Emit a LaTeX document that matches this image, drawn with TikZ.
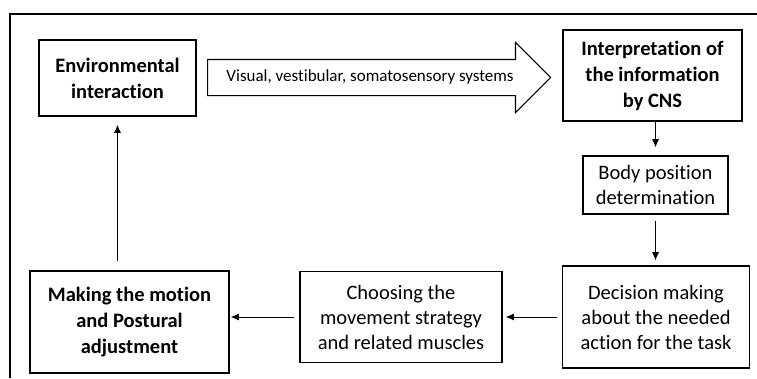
\documentclass[tikz,border=0pt]{standalone}
\usepackage{fontspec}
\setmainfont{Carlito}[Ligatures=NoCommon]
\usetikzlibrary{arrows.meta,shapes.arrows}

\tikzset{
  box/.style={draw, line width=1.6pt, align=center, inner sep=0pt},
  strong/.style={font=\fontsize{20.5}{26}\selectfont\bfseries},
  plain/.style={font=\fontsize{20.5}{25}\selectfont},
  link/.style={-{Latex[length=8pt,width=7pt]}, line width=0.8pt},
}

\begin{document}
\begin{tikzpicture}[x=1pt, y=-1pt, line join=miter]
\useasboundingbox (0,0) rectangle (757,378);
\draw[line width=1.4pt] (757,14) -- (10,14) -- (10,378); % frame
% boxes
\node[box, strong, minimum width=157pt, minimum height=76pt] (env) at (117.5,78) {Environmental\\interaction};
\node[box, strong, minimum width=179pt, minimum height=91pt] (interp) at (652.5,75.5) {Interpretation of\\the information\\by CNS};
\node[box, plain, minimum width=145pt, minimum height=58pt] (body) at (655.5,185) {Body position\\determination};
\node[box, plain, minimum width=187pt, minimum height=102pt] (decide) at (656,317) {Decision making\\about the needed\\action for the task};
\node[box, plain, minimum width=202pt, minimum height=91pt] (choose) at (401,317) {Choosing the\\movement strategy\\and related muscles};
\node[box, strong, minimum width=199pt, minimum height=102pt] (motion) at (129.5,322) {Making the motion\\and Postural\\adjustment};
% sensory input
\node[single arrow, draw, line width=1.2pt, anchor=tail, minimum height=343pt,
  single arrow head extend=17pt, single arrow tip angle=90,
  text height=11pt, text depth=4pt, inner ysep=10pt,
  font=\fontsize{17}{19}\selectfont] (senses) at (207,77.5) {Visual, vestibular, somatosensory systems};
% links
\draw[link, shorten >=8pt] (interp.south -| body.north) -- (body);
\draw[link, shorten <=6pt, shorten >=5pt] (body) -- (body |- decide.north);
\draw[link, shorten <=5pt, shorten >=3pt] (decide) -- (choose);
\draw[link, shorten <=5pt, shorten >=1pt] (choose.west) -- (choose.west -| motion.east);
\draw[link, shorten <=9pt, shorten >=8pt] (motion.north -| env.south) -- (env);
\end{tikzpicture}
\end{document}
